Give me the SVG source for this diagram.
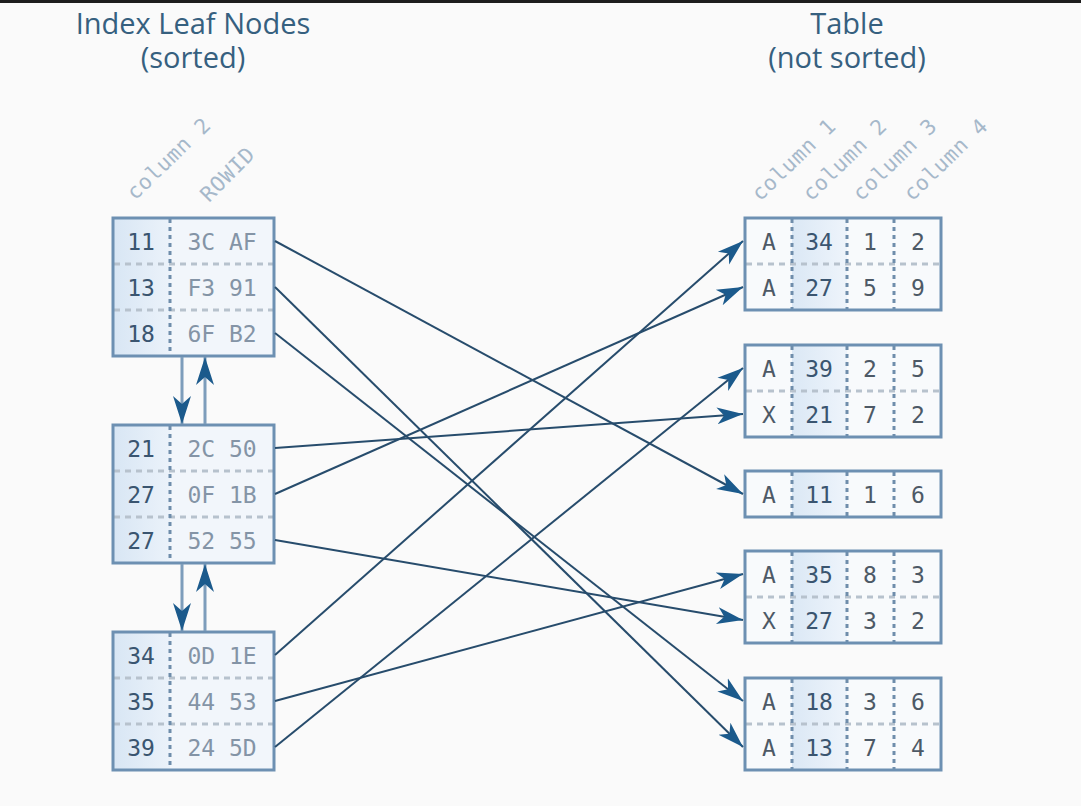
<svg xmlns="http://www.w3.org/2000/svg" width="1081" height="806" viewBox="0 0 1081 806">
  <defs>
    <linearGradient id="keyFill" x1="0" y1="0" x2="1" y2="0">
      <stop offset="0" stop-color="#d8e6f4"/>
      <stop offset="1" stop-color="#ebf2fa"/>
    </linearGradient>
    <linearGradient id="colFill" x1="0" y1="0" x2="1" y2="0">
      <stop offset="0" stop-color="#dbe8f5"/>
      <stop offset="1" stop-color="#eef4fb"/>
    </linearGradient>
    <marker id="head" markerUnits="userSpaceOnUse" markerWidth="28" markerHeight="22" refX="26" refY="10" orient="auto">
      <path d="M0,1.5 L26,10 L0,18.5 L7,10 Z" fill="#1b5a8c"/>
    </marker>
    <marker id="chainHead" markerUnits="userSpaceOnUse" markerWidth="30" markerHeight="24" refX="28" refY="11" orient="auto">
      <path d="M0,2 L28,11 L0,20 L8,11 Z" fill="#1b5a8c"/>
    </marker>
    <style>
      .title { font-family: "Open Sans", "DejaVu Sans", sans-serif; font-size: 29px; font-weight: 500; fill: #36607f; text-anchor: middle; }
      .colname { font-family: "DejaVu Sans Mono", "Liberation Mono", monospace; font-size: 21px; letter-spacing: 0.8px; fill: #a6b8ca; }
      .cell { font-family: "DejaVu Sans Mono", "Liberation Mono", monospace; font-size: 23px; text-anchor: middle; }
      .key { fill: #3a5570; }
      .rowid { fill: #8494a6; }
      .val { fill: #4d5966; }
      .frame { fill: none; stroke: #6d90b2; stroke-width: 3; }
      .rowsep { stroke: #b7c2cd; stroke-width: 3; stroke-dasharray: 6 5; }
      .colsep { stroke: #6f8dab; stroke-width: 3; stroke-dasharray: 4 4; }
      .link { fill: none; stroke: #274c6c; stroke-width: 2; marker-end: url(#head); }
      .chain { fill: none; stroke: #7d9dbb; stroke-width: 3; marker-end: url(#chainHead); }
    </style>
  </defs>

  <rect x="0" y="0" width="1081" height="806" fill="#fafafa"/>
  <rect x="0" y="0" width="1081" height="3" fill="#1e1e1e"/>

  <!-- headings -->
  <text class="title" x="193" y="34">Index Leaf Nodes<tspan x="193" dy="34">(sorted)</tspan></text>
  <text class="title" x="847" y="34">Table<tspan x="847" dy="34">(not sorted)</tspan></text>

  <!-- column captions -->
  <g id="index-captions">
    <text class="colname" transform="translate(135,201) rotate(-44)">column 2</text>
    <text class="colname" transform="translate(209,203) rotate(-45)">ROWID</text>
  </g>
  <g id="table-captions">
    <text class="colname" transform="translate(760,202) rotate(-44)">column 1</text>
    <text class="colname" transform="translate(811,202) rotate(-44)">column 2</text>
    <text class="colname" transform="translate(861,202) rotate(-44)">column 3</text>
    <text class="colname" transform="translate(912,202) rotate(-44)">column 4</text>
  </g>

  <!-- index leaf nodes -->
  <g id="leaf-1">
    <rect x="113" y="218" width="57" height="138" fill="url(#keyFill)"/>
    <rect x="170" y="218" width="104" height="138" fill="#f2f6fb"/>
    <line class="rowsep" x1="114" y1="264" x2="273" y2="264"/>
    <line class="rowsep" x1="114" y1="310" x2="273" y2="310"/>
    <line class="colsep" x1="170" y1="219" x2="170" y2="355"/>
    <rect class="frame" x="113" y="218" width="161" height="138"/>
    <text class="cell key" x="141" y="250">11</text>
    <text class="cell rowid" x="222" y="250">3C AF</text>
    <text class="cell key" x="141" y="296">13</text>
    <text class="cell rowid" x="222" y="296">F3 91</text>
    <text class="cell key" x="141" y="342">18</text>
    <text class="cell rowid" x="222" y="342">6F B2</text>
  </g>
  <g id="leaf-2">
    <rect x="113" y="425" width="57" height="138" fill="url(#keyFill)"/>
    <rect x="170" y="425" width="104" height="138" fill="#f2f6fb"/>
    <line class="rowsep" x1="114" y1="471" x2="273" y2="471"/>
    <line class="rowsep" x1="114" y1="517" x2="273" y2="517"/>
    <line class="colsep" x1="170" y1="426" x2="170" y2="562"/>
    <rect class="frame" x="113" y="425" width="161" height="138"/>
    <text class="cell key" x="141" y="457">21</text>
    <text class="cell rowid" x="222" y="457">2C 50</text>
    <text class="cell key" x="141" y="503">27</text>
    <text class="cell rowid" x="222" y="503">0F 1B</text>
    <text class="cell key" x="141" y="549">27</text>
    <text class="cell rowid" x="222" y="549">52 55</text>
  </g>
  <g id="leaf-3">
    <rect x="113" y="632" width="57" height="138" fill="url(#keyFill)"/>
    <rect x="170" y="632" width="104" height="138" fill="#f2f6fb"/>
    <line class="rowsep" x1="114" y1="678" x2="273" y2="678"/>
    <line class="rowsep" x1="114" y1="724" x2="273" y2="724"/>
    <line class="colsep" x1="170" y1="633" x2="170" y2="769"/>
    <rect class="frame" x="113" y="632" width="161" height="138"/>
    <text class="cell key" x="141" y="664">34</text>
    <text class="cell rowid" x="222" y="664">0D 1E</text>
    <text class="cell key" x="141" y="710">35</text>
    <text class="cell rowid" x="222" y="710">44 53</text>
    <text class="cell key" x="141" y="756">39</text>
    <text class="cell rowid" x="222" y="756">24 5D</text>
  </g>

  <!-- table blocks -->
  <g id="block-1">
    <rect x="745" y="218" width="196" height="92" fill="#f8fafc"/>
    <rect x="792" y="218" width="55" height="92" fill="url(#colFill)"/>
    <line class="rowsep" x1="746" y1="264" x2="940" y2="264"/>
    <line class="colsep" x1="792" y1="219" x2="792" y2="309"/>
    <line class="colsep" x1="847" y1="219" x2="847" y2="309"/>
    <line class="colsep" x1="894" y1="219" x2="894" y2="309"/>
    <rect class="frame" x="745" y="218" width="196" height="92"/>
    <text class="cell val" x="769" y="250">A</text>
    <text class="cell key" x="819" y="250">34</text>
    <text class="cell val" x="870" y="250">1</text>
    <text class="cell val" x="918" y="250">2</text>
    <text class="cell val" x="769" y="296">A</text>
    <text class="cell key" x="819" y="296">27</text>
    <text class="cell val" x="870" y="296">5</text>
    <text class="cell val" x="918" y="296">9</text>
  </g>
  <g id="block-2">
    <rect x="745" y="345" width="196" height="92" fill="#f8fafc"/>
    <rect x="792" y="345" width="55" height="92" fill="url(#colFill)"/>
    <line class="rowsep" x1="746" y1="391" x2="940" y2="391"/>
    <line class="colsep" x1="792" y1="346" x2="792" y2="436"/>
    <line class="colsep" x1="847" y1="346" x2="847" y2="436"/>
    <line class="colsep" x1="894" y1="346" x2="894" y2="436"/>
    <rect class="frame" x="745" y="345" width="196" height="92"/>
    <text class="cell val" x="769" y="377">A</text>
    <text class="cell key" x="819" y="377">39</text>
    <text class="cell val" x="870" y="377">2</text>
    <text class="cell val" x="918" y="377">5</text>
    <text class="cell val" x="769" y="423">X</text>
    <text class="cell key" x="819" y="423">21</text>
    <text class="cell val" x="870" y="423">7</text>
    <text class="cell val" x="918" y="423">2</text>
  </g>
  <g id="block-3">
    <rect x="745" y="471" width="196" height="46" fill="#f8fafc"/>
    <rect x="792" y="471" width="55" height="46" fill="url(#colFill)"/>
    <line class="colsep" x1="792" y1="472" x2="792" y2="516"/>
    <line class="colsep" x1="847" y1="472" x2="847" y2="516"/>
    <line class="colsep" x1="894" y1="472" x2="894" y2="516"/>
    <rect class="frame" x="745" y="471" width="196" height="46"/>
    <text class="cell val" x="769" y="503">A</text>
    <text class="cell key" x="819" y="503">11</text>
    <text class="cell val" x="870" y="503">1</text>
    <text class="cell val" x="918" y="503">6</text>
  </g>
  <g id="block-4">
    <rect x="745" y="551" width="196" height="92" fill="#f8fafc"/>
    <rect x="792" y="551" width="55" height="92" fill="url(#colFill)"/>
    <line class="rowsep" x1="746" y1="597" x2="940" y2="597"/>
    <line class="colsep" x1="792" y1="552" x2="792" y2="642"/>
    <line class="colsep" x1="847" y1="552" x2="847" y2="642"/>
    <line class="colsep" x1="894" y1="552" x2="894" y2="642"/>
    <rect class="frame" x="745" y="551" width="196" height="92"/>
    <text class="cell val" x="769" y="583">A</text>
    <text class="cell key" x="819" y="583">35</text>
    <text class="cell val" x="870" y="583">8</text>
    <text class="cell val" x="918" y="583">3</text>
    <text class="cell val" x="769" y="629">X</text>
    <text class="cell key" x="819" y="629">27</text>
    <text class="cell val" x="870" y="629">3</text>
    <text class="cell val" x="918" y="629">2</text>
  </g>
  <g id="block-5">
    <rect x="745" y="678" width="196" height="92" fill="#f8fafc"/>
    <rect x="792" y="678" width="55" height="92" fill="url(#colFill)"/>
    <line class="rowsep" x1="746" y1="724" x2="940" y2="724"/>
    <line class="colsep" x1="792" y1="679" x2="792" y2="769"/>
    <line class="colsep" x1="847" y1="679" x2="847" y2="769"/>
    <line class="colsep" x1="894" y1="679" x2="894" y2="769"/>
    <rect class="frame" x="745" y="678" width="196" height="92"/>
    <text class="cell val" x="769" y="710">A</text>
    <text class="cell key" x="819" y="710">18</text>
    <text class="cell val" x="870" y="710">3</text>
    <text class="cell val" x="918" y="710">6</text>
    <text class="cell val" x="769" y="756">A</text>
    <text class="cell key" x="819" y="756">13</text>
    <text class="cell val" x="870" y="756">7</text>
    <text class="cell val" x="918" y="756">4</text>
  </g>

  <g id="connectors">
    <!-- leaf node chain -->
    <line class="chain" x1="182" y1="357" x2="182" y2="424"/>
    <line class="chain" x1="205" y1="424" x2="205" y2="357"/>
    <line class="chain" x1="182" y1="564" x2="182" y2="631"/>
    <line class="chain" x1="205" y1="631" x2="205" y2="564"/>
    <!-- ROWID lookups -->
    <line class="link" x1="275" y1="241" x2="743" y2="494"/>
    <line class="link" x1="275" y1="287" x2="743" y2="747"/>
    <line class="link" x1="275" y1="333" x2="743" y2="701"/>
    <line class="link" x1="275" y1="448" x2="743" y2="414"/>
    <line class="link" x1="275" y1="494" x2="743" y2="287"/>
    <line class="link" x1="275" y1="540" x2="743" y2="620"/>
    <line class="link" x1="275" y1="655" x2="743" y2="241"/>
    <line class="link" x1="275" y1="701" x2="743" y2="574"/>
    <line class="link" x1="275" y1="747" x2="743" y2="368"/>
  </g>
</svg>
